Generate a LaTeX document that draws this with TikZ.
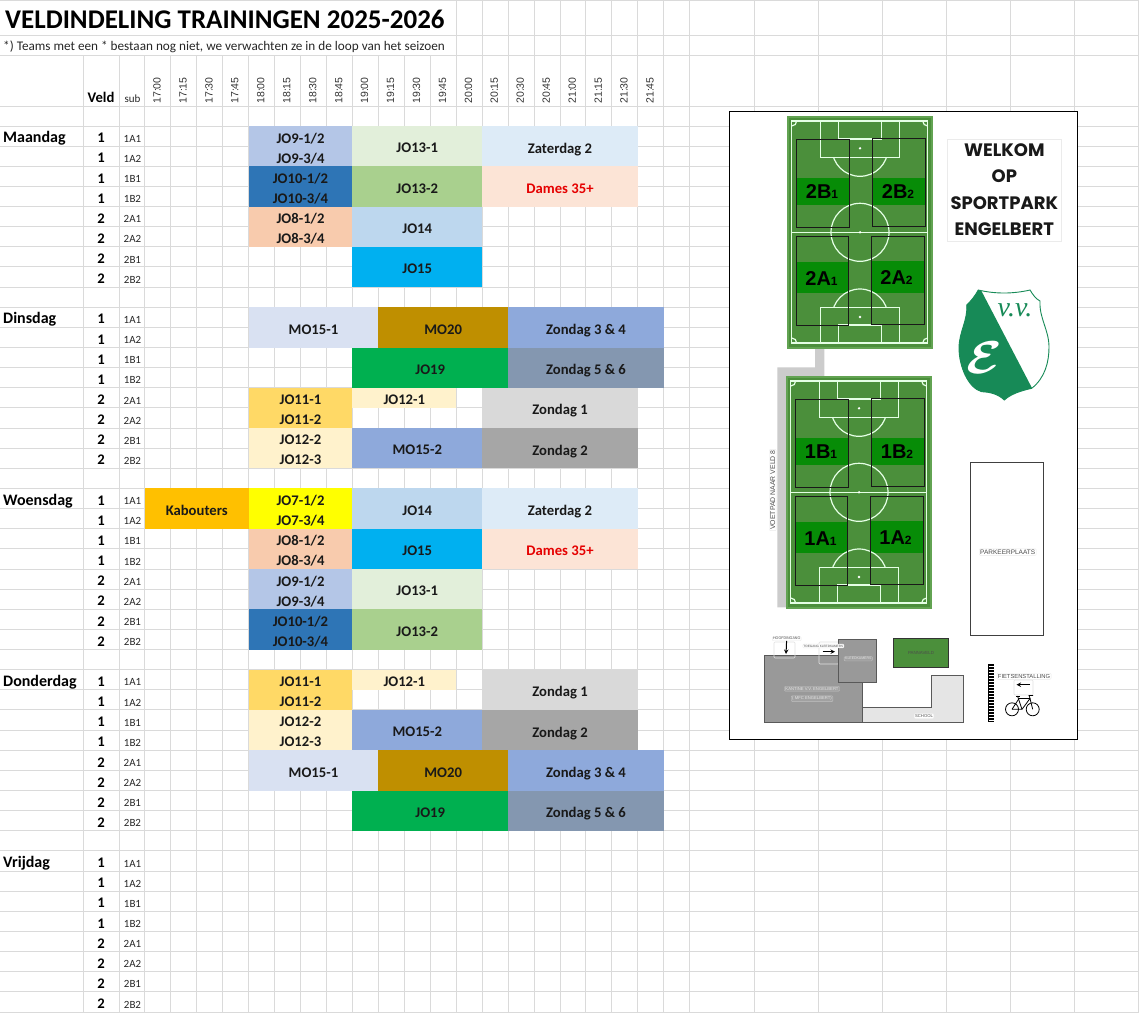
\documentclass[tikz,border=0pt]{standalone}
\usepackage{fontspec}
\setmainfont{Carlito}
\newfontfamily\plansans{Liberation Sans}
\newfontfamily\welkomfont{Poppins}
\newfontfamily\logofont{Liberation Serif}
\usepackage{tikz}

\definecolor{gridgrey}{HTML}{DADADA}
\definecolor{jo7col}{HTML}{FFFF00}
\definecolor{jo8col}{HTML}{F8CBAD}
\definecolor{jo9col}{HTML}{B4C6E7}
\definecolor{jo10col}{HTML}{2E75B6}
\definecolor{jo11col}{HTML}{FFD966}
\definecolor{jo12col}{HTML}{FFF2CC}
\definecolor{jo13acol}{HTML}{E2EFDA}
\definecolor{jo13bcol}{HTML}{A9D08E}
\definecolor{jo14col}{HTML}{BDD7EE}
\definecolor{jo15col}{HTML}{00B0F0}
\definecolor{jo19col}{HTML}{00B050}
\definecolor{mo15acol}{HTML}{D9E1F2}
\definecolor{mo15bcol}{HTML}{8EA9DB}
\definecolor{mo20col}{HTML}{BF8F00}
\definecolor{zat2col}{HTML}{DDEBF7}
\definecolor{damescol}{HTML}{FCE4D6}
\definecolor{zon1col}{HTML}{D9D9D9}
\definecolor{zon2col}{HTML}{A6A6A6}
\definecolor{zon3col}{HTML}{8EA9DB}
\definecolor{zon5col}{HTML}{8497B0}
\definecolor{kabcol}{HTML}{FFC000}
\definecolor{pitchcol}{HTML}{4B8F3B}
\definecolor{rimcol}{HTML}{62A352}
\definecolor{bandcol}{HTML}{078C07}
\definecolor{logocol}{HTML}{178A57}
\definecolor{buildcol}{HTML}{999999}

\tikzset{
    gridline/.style={draw=gridgrey, line width=1pt},
    cellbold/.style={font=\fontsize{14.67}{20.136}\selectfont\bfseries, inner sep=0pt},
    slotbox/.style={inner sep=0pt},
    slottext/.style={cellbold, align=center, text=black!90, text depth=0pt},
    subcell/.style={font=\fontsize{11}{11}\selectfont, inner sep=0pt, text=black!85},
    timecell/.style={font=\plansans\fontsize{10.5}{10.5}\selectfont, inner sep=0pt, rotate=90, text=black!80},
    whiteline/.style={draw=white!90!green, line width=1.2pt},
    subfield/.style={draw=black!90, line width=0.9pt},
    fieldname/.style={font=\plansans\bfseries\fontsize{20}{20}\selectfont, inner sep=0pt},
    plantag/.style={draw=black!8, fill=white, rounded corners=1pt, inner sep=1pt, text=black!70, font=\plansans\fontsize{6.5}{6.5}\selectfont},
    darktag/.style={draw=black!25, fill=black!37, rounded corners=1pt, inner sep=1pt, text=black!10, font=\plansans\fontsize{4.2}{4.2}\selectfont},
    arrowbox/.style={draw=black!12, rounded corners=1pt, line width=0.6pt},
    building/.style={draw=black!65, line width=1pt, fill=buildcol},
    welkomline/.style={font=\welkomfont\bfseries\fontsize{18}{18}\selectfont, inner sep=0pt, text=black!90},
}

\newcommand{\slot}[7]{%
    \node[slotbox, fill=#6, minimum width={25.95*(#3-#2)}, minimum height={20.136*(#5-#4)}]
        (#1) at ({144.8+12.975*(#2+#3)},{126+10.068*(#4+#5)}) {};
    \node[slottext] (#1text) at ([yshift=-1.9pt]#1.center) {#7};}

\newcommand{\veldplan}[3]{%
    \draw[rimcol, fill=pitchcol, line width=1.2pt] (788,117) rectangle (932,348);
    \fill[bandcol] (797,177.5) rectangle (848.5,205);
    \fill[bandcol] (873,177.5) rectangle (924.5,205);
    \fill[bandcol] (797,261.5) rectangle (848,293);
    \fill[bandcol] (872,261) rectangle (923.5,292.5);
    \draw[whiteline] (791.7,121) rectangle (927.7,343);
    \draw[whiteline] (791.7,232.3) -- (927.7,232.3);
    \draw[whiteline] (860,232.3) circle (29);
    \draw[whiteline] (820.7,121) rectangle (899.3,157.3);
    \draw[whiteline] (838.3,121) rectangle (881.7,139);
    \draw[whiteline] (820.7,307.3) rectangle (899.3,343);
    \draw[whiteline] (838.3,325) rectangle (881.7,343);
    \fill[white] (860,148.3) circle (1.3);
    \fill[white] (860,232.3) circle (1.3);
    \fill[white] (860,317) circle (1.3);
    \begin{scope}
        \clip (820,157.3) rectangle (900,180);
        \draw[whiteline] (860,148.3) circle (28);
    \end{scope}
    \begin{scope}
        \clip (820,285) rectangle (900,307.3);
        \draw[whiteline] (860,317) circle (28);
    \end{scope}
    \begin{scope}
        \clip (791.7,121) rectangle (927.7,343);
        \draw[whiteline] (791.7,121) circle (5);
        \draw[whiteline] (927.7,121) circle (5);
        \draw[whiteline] (791.7,343) circle (5);
        \draw[whiteline] (927.7,343) circle (5);
    \end{scope}
    \draw[subfield] (796.7,139.7) rectangle (849,227.3);
    \draw[subfield] (872.7,138.3) rectangle (925,226.7);
    \draw[subfield] (796.7,236.7) rectangle (848.3,325);
    \draw[subfield] (871.7,236.3) rectangle (924,324.3);
    \node[fieldname] (#1a) at (822,191.5) {#2{\fontsize{12}{12}\selectfont 1}};
    \node[fieldname] (#1b) at (898,191.5) {#2{\fontsize{12}{12}\selectfont 2}};
    \node[fieldname] (#1c) at (821.5,279) {#3{\fontsize{12}{12}\selectfont 1}};
    \node[fieldname] (#1d) at (896.5,278) {#3{\fontsize{12}{12}\selectfont 2}};}

\def\shieldoutline{(978.3,290) .. controls (995,294) and (1013,294) .. (1030,290)
    .. controls (1033,295) and (1036,299) .. (1040,301)
    .. controls (1039,318) and (1049,330) .. (1049,347)
    .. controls (1049,362) and (1045,378) .. (1031.7,388.3)
    .. controls (1020,391) and (1011,394) .. (1004.3,400)
    .. controls (998,394) and (990,392) .. (981.7,391.7)
    .. controls (968,388) and (959,366) .. (959,348)
    .. controls (959,332) and (968,320) .. (966.7,305)
    .. controls (971,301) and (975,296) .. (978.3,290) -- cycle}

\begin{document}
\begin{tikzpicture}[x=1pt, y=-1pt]
    \useasboundingbox (0,0) rectangle (1139,1012);

    \foreach \c in {0,...,11}
        \draw[gridline] ({144.8+25.95*\c},55) -- ({144.8+25.95*\c},1012);
    \foreach \c in {12,...,21}
        \draw[gridline] ({144.8+25.95*\c},0) -- ({144.8+25.95*\c},1012);
    \foreach \xx in {83,119}
        \draw[gridline] (\xx,55) -- (\xx,1012);
    \foreach \xx in {754,818,882,946,1010,1074,1138}
        \draw[gridline] (\xx,0) -- (\xx,1012);
    \foreach \yy in {0.5,35,55,106}
        \draw[gridline] (0,\yy) -- (1139,\yy);
    \foreach \r in {0,...,44}
        \draw[gridline] (0,{126+20.136*\r}) -- (1139,{126+20.136*\r});

    \node[anchor=west, inner sep=0pt, font=\fontsize{27}{27}\selectfont\bfseries] (title) at (5,19.5) {VELDINDELING TRAININGEN 2025-2026};
    \node[anchor=west, inner sep=0pt, font=\fontsize{13.2}{13.2}\selectfont, text=black!85] (remark) at (3,46.5) {*) Teams met een * bestaan nog niet, we verwachten ze in de loop van het seizoen};
    \node[cellbold] (veldhead) at (101,97.5) {Veld};
    \node[subcell] (subhead) at (132.5,98.5) {sub};

    \foreach \t [count=\i from 0] in {17:00,17:15,17:30,17:45,18:00,18:15,18:30,18:45,19:00,19:15,19:30,19:45,20:00,20:15,20:30,20:45,21:00,21:15,21:30,21:45}
        \node[timecell] (time\i) at ({157+25.95*\i},90.5) {\t};

    \foreach \day/\first in {Maandag/0,Dinsdag/9,Woensdag/18,Donderdag/27,Vrijdag/36} {
        \node[cellbold, anchor=west, font=\fontsize{16}{16}\selectfont\bfseries] (\day) at (3,{138.5+20.136*\first}) {\day};
        \foreach \veld/\sub [count=\r from 0] in {1/1A1,1/1A2,1/1B1,1/1B2,2/2A1,2/2A2,2/2B1,2/2B2} {
            \node[cellbold] (\day veld\r) at (101,{138+20.136*(\first+\r)}) {\veld};
            \node[subcell] (\day sub\r) at (132.5,{138.7+20.136*(\first+\r)}) {\sub};
        }
    }

    \slot{maJOnine}{4}{8}{0}{2}{jo9col}{JO9-1/2\\JO9-3/4}
    \slot{maJOten}{4}{8}{2}{4}{jo10col}{JO10-1/2\\JO10-3/4}
    \slot{maJOeight}{4}{8}{4}{6}{jo8col}{JO8-1/2\\JO8-3/4}
    \slot{maJOthirteenA}{8}{13}{0}{2}{jo13acol}{JO13-1}
    \slot{maJOthirteenB}{8}{13}{2}{4}{jo13bcol}{JO13-2}
    \slot{maJOfourteen}{8}{13}{4}{6}{jo14col}{JO14}
    \slot{maJOfifteen}{8}{13}{6}{8}{jo15col}{JO15}
    \slot{maZat}{13}{19}{0}{2}{zat2col}{Zaterdag 2}
    \slot{maDames}{13}{19}{2}{4}{damescol}{\textcolor{red!90!black}{Dames 35+}}

    \slot{diMOa}{4}{9}{9}{11}{mo15acol}{MO15-1}
    \slot{diMOtwenty}{9}{14}{9}{11}{mo20col}{MO20}
    \slot{diZonA}{14}{20}{9}{11}{zon3col}{Zondag 3 \& 4}
    \slot{diJOnineteen}{8}{14}{11}{13}{jo19col}{JO19}
    \slot{diZonB}{14}{20}{11}{13}{zon5col}{Zondag 5 \& 6}
    \slot{diJOeleven}{4}{8}{13}{15}{jo11col}{JO11-1\\JO11-2}
    \slot{diJOtwelveA}{8}{12}{13}{14}{jo12col}{JO12-1}
    \slot{diZonC}{13}{19}{13}{15}{zon1col}{Zondag 1}
    \slot{diJOtwelveB}{4}{8}{15}{17}{jo12col}{JO12-2\\JO12-3}
    \slot{diMOb}{8}{13}{15}{17}{mo15bcol}{MO15-2}
    \slot{diZonD}{13}{19}{15}{17}{zon2col}{Zondag 2}

    \slot{woKab}{0}{4}{18}{20}{kabcol}{Kabouters}
    \slot{woJOseven}{4}{8}{18}{20}{jo7col}{JO7-1/2\\JO7-3/4}
    \slot{woJOeight}{4}{8}{20}{22}{jo8col}{JO8-1/2\\JO8-3/4}
    \slot{woJOnine}{4}{8}{22}{24}{jo9col}{JO9-1/2\\JO9-3/4}
    \slot{woJOten}{4}{8}{24}{26}{jo10col}{JO10-1/2\\JO10-3/4}
    \slot{woJOfourteen}{8}{13}{18}{20}{jo14col}{JO14}
    \slot{woJOfifteen}{8}{13}{20}{22}{jo15col}{JO15}
    \slot{woJOthirteenA}{8}{13}{22}{24}{jo13acol}{JO13-1}
    \slot{woJOthirteenB}{8}{13}{24}{26}{jo13bcol}{JO13-2}
    \slot{woZat}{13}{19}{18}{20}{zat2col}{Zaterdag 2}
    \slot{woDames}{13}{19}{20}{22}{damescol}{\textcolor{red!90!black}{Dames 35+}}

    \slot{doJOeleven}{4}{8}{27}{29}{jo11col}{JO11-1\\JO11-2}
    \slot{doJOtwelveA}{8}{12}{27}{28}{jo12col}{JO12-1}
    \slot{doZonC}{13}{19}{27}{29}{zon1col}{Zondag 1}
    \slot{doJOtwelveB}{4}{8}{29}{31}{jo12col}{JO12-2\\JO12-3}
    \slot{doMOb}{8}{13}{29}{31}{mo15bcol}{MO15-2}
    \slot{doZonD}{13}{19}{29}{31}{zon2col}{Zondag 2}
    \slot{doMOa}{4}{9}{31}{33}{mo15acol}{MO15-1}
    \slot{doMOtwenty}{9}{14}{31}{33}{mo20col}{MO20}
    \slot{doZonA}{14}{20}{31}{33}{zon3col}{Zondag 3 \& 4}
    \slot{doJOnineteen}{8}{14}{33}{35}{jo19col}{JO19}
    \slot{doZonB}{14}{20}{33}{35}{zon5col}{Zondag 5 \& 6}

    \draw[black, fill=white, line width=1pt] (729,111) rectangle (1077,739);

    \fill[black!20] (815,348) -- (824.3,348) -- (824.3,377) -- (787.3,377) -- (787.3,607.3) -- (777.3,607.3) -- (777.3,367.3) -- (815,367.3) -- cycle;

    \veldplan{veldtwo}{2B}{2A}
    \begin{scope}[shift={(-1,260)}]
        \veldplan{veldone}{1B}{1A}
    \end{scope}

    \node[plantag, rotate=90, font=\plansans\fontsize{6.9}{6.9}\selectfont] (voetpad) at (772.7,490) {VOETPAD NAAR VELD 8};

    \draw[black!8, fill=white, line width=1pt] (947.7,139.3) rectangle (1061.7,241.7);
    \node[welkomline] (welkom) at (1004.3,150) {WELKOM};
    \node[welkomline] (op) at (1004.3,176) {OP};
    \node[welkomline] (sportpark) at (1004.3,202.7) {SPORTPARK};
    \node[welkomline] (engelbert) at (1004.3,229) {ENGELBERT};

    \draw[logocol, fill=white, line width=0.9pt] \shieldoutline;
    \begin{scope}
        \clip \shieldoutline;
        \fill[logocol] (978.3,285) -- (1033,390) -- (1010,410) -- (950,410) -- (950,285) -- cycle;
    \end{scope}
    \node[inner sep=0pt, text=logocol, font=\logofont\itshape\fontsize{28}{28}\selectfont] (vv) at (1015,310) {v.v.};
    \node[inner sep=0pt, text=white, xscale=5.2, yscale=4.6] (logoE) at (984,358) {{\boldmath$\mathcal{E}$}};

    \draw[black!75, fill=white, line width=0.9pt] (970.3,462.3) rectangle (1043.7,635);
    \node[plantag] (parkeer) at (1007.7,552) {PARKEERPLAATS};

    \draw[building] (764,655.7) rectangle (862.7,722.7);
    \draw[arrowbox] (774,642) rectangle (795,658);
    \draw[arrowbox] (819,642) rectangle (838.7,664);
    \draw[building] (838.7,639) rectangle (876.7,682);
    \node[darktag, font=\plansans\fontsize{3.5}{3.5}\selectfont] (kleedkamers) at (858.3,658.7) {KLEEDKAMERS};
    \node[darktag] (kantine) at (812,688.7) {KANTINE V.V. ENGELBERT};
    \node[darktag] (mfc) at (812,698.7) {( MFC ENGELBERT)};

    \draw[black!65, fill=black!10, line width=1pt] (862.7,707.7) -- (931,707.7) -- (931,675.3) -- (963.7,675.3) -- (963.7,722.7) -- (862.7,722.7) -- cycle;
    \node[plantag, font=\plansans\fontsize{4.2}{4.2}\selectfont] (school) at (924,716) {SCHOOL};

    \draw[black!80, fill=pitchcol, line width=1pt] (893,638.3) rectangle (948.3,667.7);
    \node[inner sep=1pt, text=black!70, font=\plansans\fontsize{4.4}{4.4}\selectfont] (panna) at (921,653) {PANNAVELD};

    \node[plantag, inner sep=0.8pt, font=\plansans\fontsize{3.6}{3.6}\selectfont] (hoofd) at (786.7,638.7) {HOOFDINGANG};
    \coordinate (hoofdpijl) at (786,654);
    \draw[-stealth, black, line width=1pt] (hoofd) -- (hoofdpijl);
    \node[plantag, inner sep=0.8pt, font=\plansans\fontsize{3.1}{3.1}\selectfont] (toegang) at (823.3,646) {TOEGANG KLEEDKAMERS};
    \coordinate (toegangvan) at (822.7,651.7);
    \coordinate (toegangnaar) at (835,651.7);
    \draw[-stealth, black, line width=1pt] (toegangvan) -- (toegangnaar);

    \fill[black] (988.3,664.3) rectangle (994.3,722.3);
    \foreach \s in {0,...,18}
        \draw[white, line width=0.5pt] (988.8,{666+3*\s}) -- (993.8,{666+3*\s});

    \draw[arrowbox] (1014,680) rectangle (1033,695);
    \node[plantag, font=\plansans\fontsize{5.8}{5.8}\selectfont] (fiets) at (1024,676.3) {FIETSENSTALLING};
    \coordinate (fietsvan) at (1030,684.7);
    \coordinate (fietsnaar) at (1016.5,684.7);
    \draw[-stealth, black, line width=1pt] (fietsvan) -- (fietsnaar);

    \draw[black, line width=0.8pt] (1012,709.3) circle (6.5);
    \draw[black, line width=0.8pt] (1032.7,709.3) circle (6.5);
    \draw[black, line width=0.8pt] (1012,709.3) -- (1019,698.5) -- (1030,698.5) -- (1032.7,709.3);
    \draw[black, line width=0.8pt] (1012,709.3) -- (1022,709.3) -- (1030,698.5);
    \draw[black, line width=0.8pt] (1017.5,696) -- (1022,709.3);
    \draw[black, line width=0.8pt] (1016,696) -- (1020,696);
    \draw[black, line width=0.8pt] (1030,698.5) -- (1029,695.5) -- (1033,695.5);
\end{tikzpicture}
\end{document}
